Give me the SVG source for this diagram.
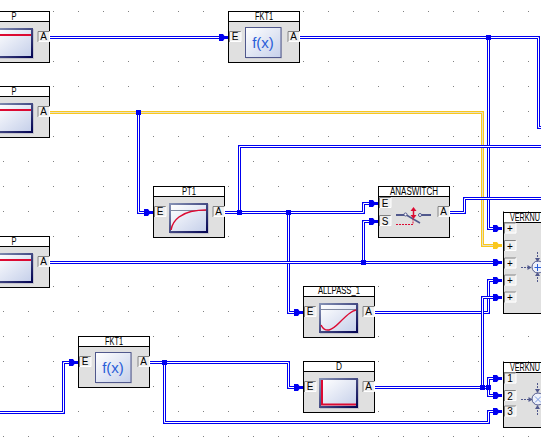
<svg xmlns="http://www.w3.org/2000/svg" width="541" height="446" viewBox="0 0 541 446">
<style>
text{font-family:"Liberation Sans",Arial,sans-serif;font-size:10px;fill:#000}
.t{text-anchor:middle}
.p{text-anchor:middle}
.body{fill:#e0e0e0;stroke:#000}
.head{fill:#fff;stroke:#000}
.o{fill:none;stroke:#0000f0;stroke-width:3;stroke-miterlimit:10}
.i{fill:none;stroke:#fff;stroke-width:1}
.oy{fill:none;stroke:#fac81e;stroke-width:3}
.iy{fill:none;stroke:#e6e0c8;stroke-width:1}
.j{fill:#0000f0}
.red{fill:none;stroke:#dc0a32;stroke-width:1.5}
.red2{fill:none;stroke:#dc0a32;stroke-width:2}
.gl{stroke:#8088a0;stroke-width:1;fill:none}
.sym{stroke:#50588c;fill:none;stroke-width:1}
.fx{font-size:15px;fill:#2a5ed8;text-anchor:middle}
</style>
<defs>
<pattern id="dots" patternUnits="userSpaceOnUse" x="3" y="11" width="25" height="25"><rect width="1" height="1" fill="#808080"/></pattern>
<linearGradient id="fr" x1="0" y1="0" x2="1" y2="1"><stop offset="0" stop-color="#8a96b8"/><stop offset="1" stop-color="#000050"/></linearGradient>
<linearGradient id="bg" x1="0" y1="0" x2="1" y2="1"><stop offset="0" stop-color="#ffffff"/><stop offset="1" stop-color="#c6d0ea"/></linearGradient>
<marker id="a" markerUnits="userSpaceOnUse" viewBox="-9 -4 9 8" markerWidth="9" markerHeight="8" refX="0" refY="0" orient="auto"><path fill="#0000f0" d="M-9-3.5H-5L-3.5-1.5H0V1.5H-3.5L-5 3.5H-9Z"/></marker>
<marker id="ay" markerUnits="userSpaceOnUse" viewBox="-9 -4 9 8" markerWidth="9" markerHeight="8" refX="0" refY="0" orient="auto"><path fill="#fac81e" d="M-9-3.5H-5L-3.5-1.5H0V1.5H-3.5L-5 3.5H-9Z"/></marker>
<g id="port"><rect width="12" height="11" fill="#efefef"/><path d="M.5 11V.5H12" fill="none" stroke="#808080"/><path d="M12 .5V10.5H1" fill="none" stroke="#fff"/></g>
<g id="frame"><rect x="1" y="1" width="39" height="30" fill="#c4c4cc"/><rect width="39" height="30" fill="url(#fr)"/><rect x="2" y="2" width="35" height="26" fill="url(#bg)"/></g>
<g id="fxi"><rect x="1" y="1" width="36" height="30.5" fill="#c4c4cc"/><rect x=".5" y=".5" width="35.5" height="30" fill="url(#bg)" stroke="#50588c"/></g>
<g id="box"><rect class="body" x=".5" y=".5" width="71" height="51"/><rect class="head" x=".5" y=".5" width="71" height="10"/></g>
</defs>
<rect width="541" height="446" fill="#fff"/>
<rect width="541" height="446" fill="url(#dots)"/>

<g id="connectors">
<path class="oy" d="M49 112.5H482.5V245.5H502"/><path class="iy" marker-end="url(#ay)" d="M49 112.5H482.5V245.5H502"/>
<path class="o" d="M49 37.5H228"/><path class="i" marker-end="url(#a)" d="M49 37.5H228"/>
<path class="o" d="M300 37.5H538.5V127.5H541"/><path class="i" d="M300 37.5H538.5V127.5H541"/>
<path class="o" d="M488.5 37.5V228.5H502"/><path class="i" marker-end="url(#a)" d="M488.5 37.5V228.5H502"/>
<path class="o" d="M138.5 112.5V212.5H153"/><path class="i" marker-end="url(#a)" d="M138.5 112.5V212.5H153"/>
<path class="o" d="M225 212.5H363.5V203.5H378"/><path class="i" marker-end="url(#a)" d="M225 212.5H363.5V203.5H378"/>
<path class="o" d="M239.5 212.5V146.5H541"/><path class="i" d="M239.5 212.5V146.5H541"/>
<path class="o" d="M288.5 212.5V312.5H303"/><path class="i" marker-end="url(#a)" d="M288.5 212.5V312.5H303"/>
<path class="o" d="M450 212.5H464.5V198.5H541"/><path class="i" d="M450 212.5H464.5V198.5H541"/>
<path class="o" d="M49 262.5H502"/><path class="i" marker-end="url(#a)" d="M49 262.5H502"/>
<path class="o" d="M363.5 262.5V221.5H378"/><path class="i" marker-end="url(#a)" d="M363.5 262.5V221.5H378"/>
<path class="o" d="M375 312.5H488.5V280.5H502"/><path class="i" marker-end="url(#a)" d="M375 312.5H488.5V280.5H502"/>
<path class="o" d="M375 387.5H482.5V297.5H502"/><path class="i" marker-end="url(#a)" d="M375 387.5H482.5V297.5H502"/>
<path class="o" d="M482.5 387.5H488.5V378.5H502"/><path class="i" marker-end="url(#a)" d="M482.5 387.5H488.5V378.5H502"/>
<path class="o" d="M488.5 387.5V395.5H502"/><path class="i" marker-end="url(#a)" d="M488.5 387.5V395.5H502"/>
<path class="o" d="M0 412.5H63.5V362.5H78"/><path class="i" marker-end="url(#a)" d="M0 412.5H63.5V362.5H78"/>
<path class="o" d="M150 362.5H288.5V387.5H303"/><path class="i" marker-end="url(#a)" d="M150 362.5H288.5V387.5H303"/>
<path class="o" d="M164.5 362.5V422.5H488.5V411.5H502"/><path class="i" marker-end="url(#a)" d="M164.5 362.5V422.5H488.5V411.5H502"/>
<rect class="j" x="486" y="35" width="5" height="5"/>
<rect class="j" x="136" y="110" width="5" height="5"/>
<rect class="j" x="237" y="210" width="5" height="5"/>
<rect class="j" x="286" y="210" width="5" height="5"/>
<rect class="j" x="361" y="260" width="5" height="5"/>
<rect class="j" x="480" y="385" width="5" height="5"/>
<rect class="j" x="486" y="385" width="5" height="5"/>
<rect class="j" x="162" y="360" width="5" height="5"/>
</g>

<g id="p1" transform="translate(-22 11)"><use href="#box"/><text class="t" x="36" y="8.8" textLength="5" lengthAdjust="spacingAndGlyphs">P</text><use href="#frame" x="16" y="17"/><path class="red2" d="M18 24H53"/><use href="#port" x="59.5" y="20"/><text class="p" x="65.5" y="29">A</text></g>
<g id="p2" transform="translate(-22 86)"><use href="#box"/><text class="t" x="36" y="8.8" textLength="5" lengthAdjust="spacingAndGlyphs">P</text><use href="#frame" x="16" y="17"/><path class="red2" d="M18 24H53"/><use href="#port" x="59.5" y="20"/><text class="p" x="65.5" y="29">A</text></g>
<g id="p3" transform="translate(-22 236)"><use href="#box"/><text class="t" x="36" y="8.8" textLength="5" lengthAdjust="spacingAndGlyphs">P</text><use href="#frame" x="16" y="17"/><path class="red2" d="M18 24H53"/><use href="#port" x="59.5" y="20"/><text class="p" x="65.5" y="29">A</text></g>

<g id="fkt1a" transform="translate(228 11)"><use href="#box"/><text class="t" x="36" y="8.8" textLength="18" lengthAdjust="spacingAndGlyphs">FKT1</text><use href="#fxi" x="17" y="16"/><text class="fx" x="35" y="37">f(x)</text><use href="#port" x="1" y="20"/><text class="p" x="7" y="29">E</text><use href="#port" x="59.5" y="20"/><text class="p" x="65.5" y="29">A</text></g>
<g id="fkt1b" transform="translate(78 336)"><use href="#box"/><text class="t" x="36" y="8.8" textLength="18" lengthAdjust="spacingAndGlyphs">FKT1</text><use href="#fxi" x="17" y="16"/><text class="fx" x="35" y="37">f(x)</text><use href="#port" x="1" y="20"/><text class="p" x="7" y="29">E</text><use href="#port" x="59.5" y="20"/><text class="p" x="65.5" y="29">A</text></g>

<g id="pt1" transform="translate(153 186)"><use href="#box"/><text class="t" x="36" y="8.8" textLength="14" lengthAdjust="spacingAndGlyphs">PT1</text><use href="#frame" x="16" y="17"/><path class="gl" d="M18 24.5H53"/><path class="red" d="M18 44C19 38 22 34 26 31C30 28 34 26.500 38 25.500C43 24.500 48 24 53 24"/><use href="#port" x="1" y="20"/><text class="p" x="7" y="29">E</text><use href="#port" x="59.5" y="20"/><text class="p" x="65.5" y="29">A</text></g>

<g id="anaswitch" transform="translate(378 186)"><use href="#box"/><text class="t" x="36" y="8.8" textLength="48" lengthAdjust="spacingAndGlyphs">ANASWITCH</text><use href="#port" x="1" y="11"/><text class="p" x="7" y="20.500">E</text><use href="#port" x="1" y="29"/><text class="p" x="7" y="39">S</text><use href="#port" x="59.5" y="20"/><text class="p" x="65.5" y="29">A</text>
<g transform="translate(-378 -186)"><path d="M396 215H405M420 215H431" stroke="#50588c" stroke-width="2" fill="none"/><path d="M405.500 214.500L420 223" stroke="#50588c" stroke-width="1.500"/><circle cx="405.500" cy="214.500" r="1.500" fill="#fff" stroke="#50588c"/><circle cx="420" cy="215" r="1.500" fill="#fff" stroke="#50588c"/><path d="M413.500 209V217" stroke="#dc0a32" stroke-width="1.500"/><path d="M413.500 207L410.500 211H416.500ZM413.500 219L410.500 215H416.500Z" fill="#dc0a32"/><path d="M396 224.500H413V219" fill="none" stroke="#dc0a32" stroke-dasharray="2 1"/></g></g>

<g id="allpass" transform="translate(303 286)"><use href="#box"/><text class="t" x="36" y="8" textLength="42" lengthAdjust="spacingAndGlyphs">ALLPASS_1</text><use href="#frame" x="16" y="17"/><path class="gl" d="M18 23.500H53"/><path class="red" d="M18 39C20 43 23 44.500 26 44C30 43 33 40 36 37C40 33 44 29 47 27C49 25.500 51 24.500 53 24"/><use href="#port" x="1" y="20"/><text class="p" x="7" y="29">E</text><use href="#port" x="59.5" y="20"/><text class="p" x="65.5" y="29">A</text></g>

<g id="d" transform="translate(303 361)"><use href="#box"/><text class="t" x="36" y="8.8" textLength="6" lengthAdjust="spacingAndGlyphs">D</text><use href="#frame" x="16" y="17"/><path class="red2" d="M19 19V43.500H53"/><use href="#port" x="1" y="20"/><text class="p" x="7" y="29">E</text><use href="#port" x="59.5" y="20"/><text class="p" x="65.5" y="29">A</text></g>

<g id="verknu1"><rect class="body" x="503.500" y="212.500" width="71" height="101"/><rect class="head" x="503.500" y="212.500" width="71" height="10"/><text x="510" y="221" textLength="30" lengthAdjust="spacingAndGlyphs">VERKNU</text>
<use href="#port" x="504" y="222.500"/><text class="p" x="510" y="232">+</text>
<use href="#port" x="504" y="240"/><text class="p" x="510" y="249.500">+</text>
<use href="#port" x="504" y="257.500"/><text class="p" x="510" y="267">+</text>
<use href="#port" x="504" y="274.500"/><text class="p" x="510" y="284">+</text>
<use href="#port" x="504" y="291.500"/><text class="p" x="510" y="301">+</text>
<circle cx="538" cy="267" r="6" fill="#eef1fa" stroke="#50588c"/><path d="M521 267.500H531" class="sym" stroke-dasharray="2 1"/><path d="M531.500 267.500L527.500 265V270Z" fill="#50588c"/><path d="M537.500 252V261M537.500 282V273" class="sym" stroke-dasharray="2 1"/><path d="M537.500 262L535 258H540ZM537.500 272L535 276H540Z" fill="#50588c"/><path d="M534.500 267.500H541M537.500 264V271" stroke="#2a5ed8" fill="none"/></g>

<g id="verknu2"><rect class="body" x="503.500" y="362.500" width="71" height="65"/><rect class="head" x="503.500" y="362.500" width="71" height="10"/><text x="510" y="371" textLength="30" lengthAdjust="spacingAndGlyphs">VERKNU</text>
<use href="#port" x="504" y="372.500"/><text class="p" x="510" y="382">1</text>
<use href="#port" x="504" y="390"/><text class="p" x="510" y="399.500">2</text>
<use href="#port" x="504" y="405.500"/><text class="p" x="510" y="415">3</text>
<circle cx="538" cy="399" r="6" fill="#eef1fa" stroke="#50588c"/><path d="M521 399.500H532" class="sym" stroke-dasharray="2 1"/><path d="M532.500 399.500L528.500 397V402Z" fill="#50588c"/><path d="M537.500 383V392M537.500 415V406" class="sym" stroke-dasharray="2 1"/><path d="M537.500 393L535 389H540ZM537.500 405L535 409H540Z" fill="#50588c"/><path d="M535 396.500L541 402.500M541 396.500L535 402.500" stroke="#7a9ae0" fill="none"/></g>
</svg>
